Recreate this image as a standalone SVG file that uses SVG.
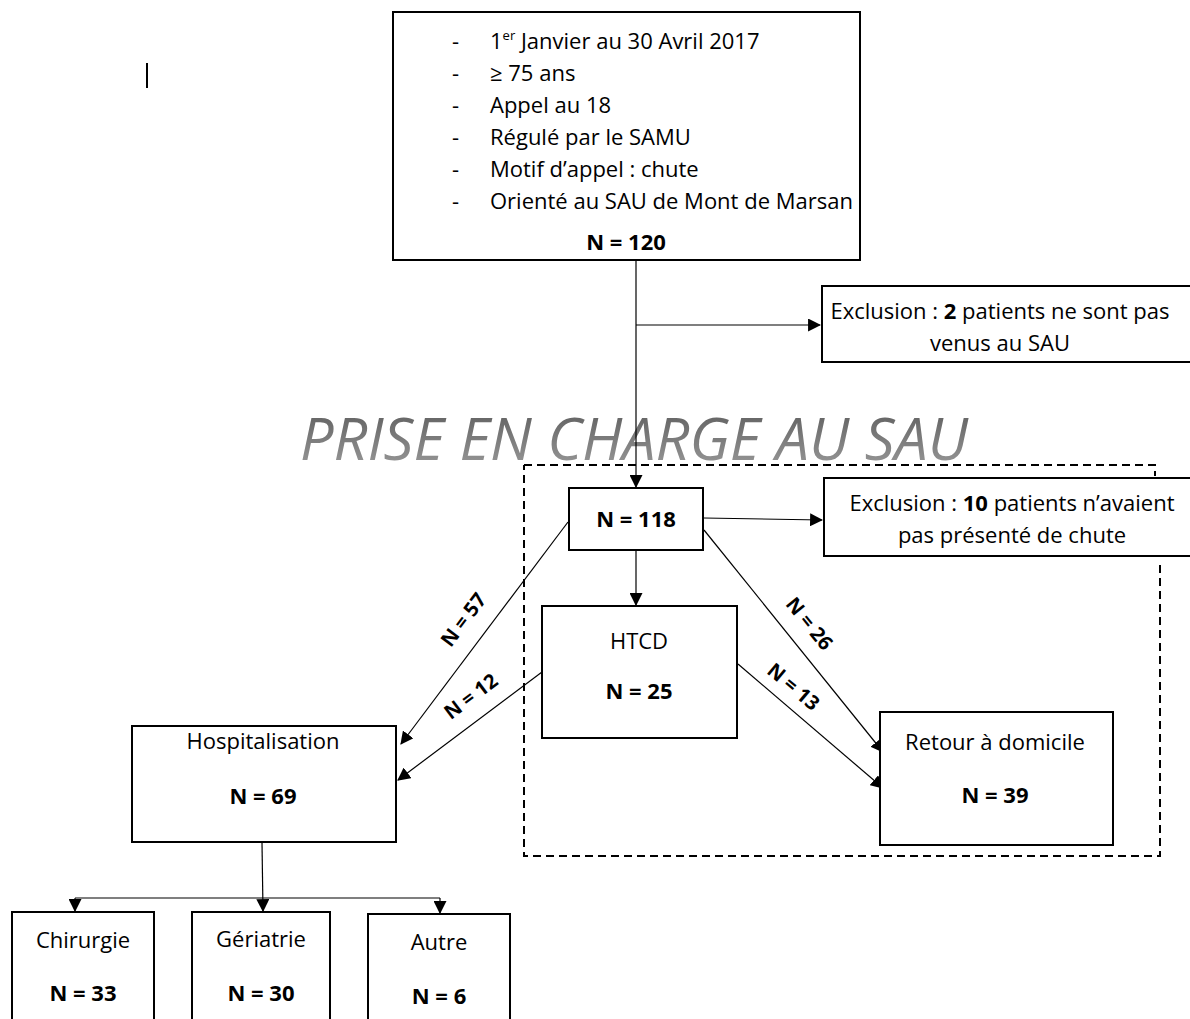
<svg xmlns="http://www.w3.org/2000/svg" width="1190" height="1019" viewBox="0 0 1190 1019">
<defs>
<marker id="ah" viewBox="0 0 12 12" refX="11" refY="6" markerWidth="13" markerHeight="13" markerUnits="userSpaceOnUse" orient="auto">
<path d="M0,0 L12,6 L0,12 z" fill="#000"/>
</marker>
<linearGradient id="tg" x1="0" y1="0" x2="0" y2="1">
<stop offset="0" stop-color="#555"/>
<stop offset="1" stop-color="#a0a0a0"/>
</linearGradient>
<style>
.box{fill:#fff;stroke:#000;stroke-width:2}
.t{font-family:"Open Sans","Liberation Sans",sans-serif;font-size:22px;fill:#000}
.b{font-weight:bold}
.c{text-anchor:middle}
.lbl{font-family:"Open Sans","Liberation Sans",sans-serif;font-size:20px;font-weight:bold;fill:#000;text-anchor:middle}
.ln{stroke:#000;stroke-width:1.2;fill:none}
</style>
</defs>
<rect width="1190" height="1019" fill="#fff"/>
<line x1="147" y1="63" x2="147" y2="88" stroke="#000" stroke-width="2"/>
<text x="634" y="460" font-family="'Open Sans','Liberation Sans',sans-serif" font-style="italic" font-size="58" fill="url(#tg)" text-anchor="middle" textLength="668" lengthAdjust="spacingAndGlyphs">PRISE EN CHARGE AU SAU</text>
<path d="M524,465 H1155 V476 M1160,565 V856 H524 V465" fill="none" stroke="#000" stroke-width="2" stroke-dasharray="8,5"/>
<g id="connectors">
<line class="ln" x1="636" y1="261" x2="636" y2="487" marker-end="url(#ah)"/>
<line class="ln" x1="636" y1="325" x2="820" y2="325" marker-end="url(#ah)"/>
<line class="ln" x1="704" y1="518" x2="822" y2="520" marker-end="url(#ah)"/>
<line class="ln" x1="636" y1="551" x2="636" y2="605" marker-end="url(#ah)"/>
<line class="ln" x1="568" y1="522" x2="401" y2="744" marker-end="url(#ah)"/>
<line class="ln" x1="542" y1="672" x2="398" y2="780" marker-end="url(#ah)"/>
<line class="ln" x1="704" y1="530" x2="883" y2="752" marker-end="url(#ah)"/>
<line class="ln" x1="738" y1="664" x2="883" y2="788" marker-end="url(#ah)"/>
<line class="ln" x1="262" y1="843" x2="263" y2="911" marker-end="url(#ah)"/>
<line class="ln" x1="75" y1="898" x2="440" y2="898"/>
<line class="ln" x1="75" y1="898" x2="75" y2="911" marker-end="url(#ah)"/>
<line class="ln" x1="440" y1="898" x2="440" y2="913" marker-end="url(#ah)"/>
<text class="lbl" transform="translate(469,624) rotate(-53)">N = 57</text>
<text class="lbl" transform="translate(475,702) rotate(-37)">N = 12</text>
<text class="lbl" transform="translate(804,628) rotate(51)">N = 26</text>
<text class="lbl" transform="translate(789,692) rotate(40)">N = 13</text>
</g>
<g id="n120">
<rect class="box" x="393" y="12" width="467" height="248"/>
<g class="t">
<text x="452" y="49">-</text><text x="490" y="49">1<tspan font-size="13" dy="-9">er</tspan><tspan dy="9"> Janvier au 30 Avril 2017</tspan></text>
<text x="452" y="81">-</text><text x="490" y="81">≥ 75 ans</text>
<text x="452" y="113">-</text><text x="490" y="113">Appel au 18</text>
<text x="452" y="145">-</text><text x="490" y="145">Régulé par le SAMU</text>
<text x="452" y="177">-</text><text x="490" y="177">Motif d’appel : chute</text>
<text x="452" y="209">-</text><text x="490" y="209">Orienté au SAU de Mont de Marsan</text>
<text class="b c" x="626" y="250">N = 120</text>
</g>
</g>
<g id="excl2">
<rect class="box" x="822" y="286" width="370" height="76"/>
<text class="t c" x="1000" y="319">Exclusion : <tspan class="b">2</tspan> patients ne sont pas</text>
<text class="t c" x="1000" y="351">venus au SAU</text>
</g>
<g id="n118">
<rect class="box" x="569" y="488" width="134" height="62"/>
<text class="t b c" x="636" y="527">N = 118</text>
</g>
<g id="excl10">
<rect class="box" x="824" y="478" width="368" height="78"/>
<text class="t c" x="1012" y="511">Exclusion : <tspan class="b">10</tspan> patients n’avaient</text>
<text class="t c" x="1012" y="543">pas présenté de chute</text>
</g>
<g id="htcd">
<rect class="box" x="542" y="606" width="195" height="132"/>
<text class="t c" x="639" y="649">HTCD</text>
<text class="t b c" x="639" y="699">N = 25</text>
</g>
<g id="hosp">
<rect class="box" x="132" y="726" width="264" height="116"/>
<text class="t c" x="263" y="749">Hospitalisation</text>
<text class="t b c" x="263" y="804">N = 69</text>
</g>
<g id="retour">
<rect class="box" x="880" y="712" width="233" height="133"/>
<text class="t c" x="995" y="750">Retour à domicile</text>
<text class="t b c" x="995" y="803">N = 39</text>
</g>
<g id="chir">
<rect class="box" x="12" y="912" width="142" height="110"/>
<text class="t c" x="83" y="948">Chirurgie</text>
<text class="t b c" x="83" y="1001">N = 33</text>
</g>
<g id="geri">
<rect class="box" x="192" y="912" width="138" height="110"/>
<text class="t c" x="261" y="947">Gériatrie</text>
<text class="t b c" x="261" y="1001">N = 30</text>
</g>
<g id="autre">
<rect class="box" x="368" y="914" width="142" height="110"/>
<text class="t c" x="439" y="950">Autre</text>
<text class="t b c" x="439" y="1004">N = 6</text>
</g>
</svg>
